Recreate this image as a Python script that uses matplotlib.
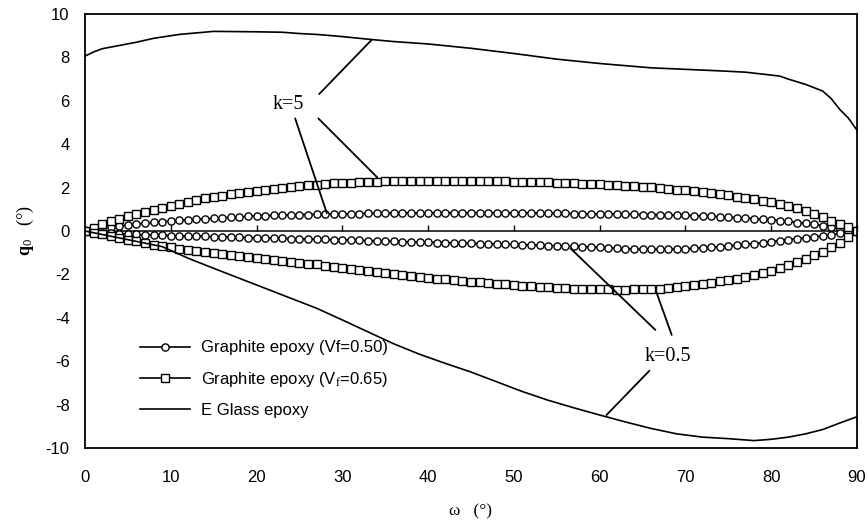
import numpy as np
import matplotlib
matplotlib.use("Agg")
import matplotlib.pyplot as plt

# ── Data ───────────────────────────────────────────────────
omega = list(range(0, 91))

# Graphite epoxy (Vf=0.50)
gr50_k5 = [0.00, 0.06, 0.12, 0.17, 0.23, 0.28, 0.32, 0.36, 0.40, 0.43,
           0.46, 0.49, 0.51, 0.54, 0.56, 0.58, 0.61, 0.63, 0.65, 0.67,
           0.70, 0.71, 0.72, 0.73, 0.74, 0.75, 0.76, 0.77, 0.78, 0.78,
           0.79, 0.80, 0.80, 0.81, 0.81, 0.82, 0.82, 0.83, 0.83, 0.83,
           0.84, 0.84, 0.84, 0.84, 0.84, 0.84, 0.84, 0.84, 0.84, 0.84,
           0.83, 0.83, 0.83, 0.82, 0.82, 0.81, 0.81, 0.80, 0.80, 0.79,
           0.79, 0.78, 0.78, 0.77, 0.77, 0.76, 0.76, 0.75, 0.74, 0.73,
           0.72, 0.71, 0.69, 0.68, 0.66, 0.64, 0.62, 0.60, 0.57, 0.55,
           0.52, 0.48, 0.44, 0.39, 0.35, 0.30, 0.24, 0.17, 0.11, 0.05,
           0.00]
gr50_k05 = [0.00, -0.04, -0.07, -0.10, -0.12, -0.14, -0.16, -0.18, -0.19, -0.20,
            -0.21, -0.22, -0.23, -0.24, -0.25, -0.26, -0.27, -0.28, -0.29, -0.30,
            -0.31, -0.32, -0.33, -0.34, -0.35, -0.36, -0.37, -0.38, -0.39, -0.40,
            -0.41, -0.42, -0.43, -0.44, -0.45, -0.46, -0.47, -0.49, -0.50, -0.51,
            -0.52, -0.53, -0.54, -0.55, -0.56, -0.57, -0.58, -0.59, -0.60, -0.61,
            -0.62, -0.63, -0.65, -0.66, -0.67, -0.68, -0.70, -0.71, -0.72, -0.74,
            -0.76, -0.78, -0.80, -0.82, -0.83, -0.84, -0.84, -0.84, -0.84, -0.83,
            -0.82, -0.80, -0.78, -0.75, -0.72, -0.68, -0.65, -0.62, -0.58, -0.54,
            -0.49, -0.44, -0.40, -0.35, -0.31, -0.27, -0.22, -0.17, -0.11, -0.05,
            0.00]

# Graphite epoxy (Vf=0.65)
gr65_k5 = [0.00, 0.15, 0.30, 0.45, 0.56, 0.67, 0.77, 0.86, 0.96, 1.06,
           1.16, 1.25, 1.34, 1.42, 1.50, 1.57, 1.63, 1.69, 1.75, 1.80,
           1.85, 1.90, 1.94, 1.98, 2.02, 2.06, 2.10, 2.13, 2.16, 2.19,
           2.21, 2.23, 2.25, 2.27, 2.28, 2.29, 2.30, 2.31, 2.31, 2.31,
           2.32, 2.32, 2.32, 2.31, 2.31, 2.31, 2.30, 2.30, 2.29, 2.29,
           2.28, 2.27, 2.26, 2.25, 2.24, 2.23, 2.21, 2.20, 2.18, 2.17,
           2.15, 2.13, 2.11, 2.09, 2.07, 2.04, 2.01, 1.98, 1.95, 1.91,
           1.87, 1.83, 1.79, 1.74, 1.69, 1.64, 1.58, 1.53, 1.46, 1.40,
           1.33, 1.24, 1.14, 1.04, 0.92, 0.78, 0.63, 0.48, 0.33, 0.17,
           0.00]
gr65_k05 = [0.00, -0.08, -0.16, -0.24, -0.32, -0.40, -0.48, -0.56, -0.64, -0.71,
            -0.76, -0.82, -0.87, -0.93, -0.98, -1.03, -1.08, -1.12, -1.17, -1.21,
            -1.26, -1.30, -1.34, -1.38, -1.42, -1.46, -1.50, -1.54, -1.59, -1.64,
            -1.69, -1.74, -1.79, -1.84, -1.89, -1.94, -1.99, -2.03, -2.07, -2.11,
            -2.15, -2.19, -2.23, -2.27, -2.30, -2.34, -2.37, -2.40, -2.43, -2.46,
            -2.49, -2.52, -2.55, -2.57, -2.60, -2.62, -2.64, -2.66, -2.67, -2.68,
            -2.69, -2.69, -2.70, -2.70, -2.69, -2.69, -2.68, -2.66, -2.63, -2.59,
            -2.54, -2.49, -2.44, -2.38, -2.32, -2.26, -2.20, -2.13, -2.04, -1.94,
            -1.83, -1.71, -1.58, -1.44, -1.28, -1.12, -0.95, -0.76, -0.55, -0.28,
            0.00]

# E Glass epoxy
eg_x_k5 = [0, 1, 2, 4, 6, 8, 11, 15, 20, 23, 25, 27, 30, 33, 36, 40, 45, 50,
           55, 60, 63, 66, 70, 74, 77, 79, 81, 82, 84, 86, 87, 88, 89, 90]
eg_k5 = [8.06, 8.25, 8.40, 8.55, 8.70, 8.88, 9.06, 9.20, 9.18, 9.16, 9.10,
         9.06, 8.96, 8.84, 8.73, 8.62, 8.42, 8.18, 7.92, 7.72, 7.62, 7.52,
         7.45, 7.38, 7.32, 7.23, 7.14, 7.00, 6.76, 6.45, 6.10, 5.60, 5.20,
         4.65]
eg_x_k05 = [0, 3, 6, 9, 12, 15, 18, 21, 24, 27, 30, 33, 36, 39, 42, 45, 48,
            51, 54, 57, 60, 63, 66, 69, 72, 75, 78, 80, 82, 84, 86, 88, 90]
eg_k05 = [0.00, -0.24, -0.48, -0.72, -1.25, -1.72, -2.18, -2.64, -3.10,
          -3.56, -4.10, -4.65, -5.20, -5.68, -6.10, -6.50, -6.95, -7.40,
          -7.80, -8.15, -8.48, -8.80, -9.10, -9.35, -9.50, -9.57, -9.66,
          -9.60, -9.50, -9.35, -9.15, -8.85, -8.56]

# annotation: label position, then pointer (start, end) pairs
k5_label = (23.7, 5.85)
k5_lines = [((27.3, 6.31), (33.4, 8.80)),
            ((27.2, 5.19), (34.1, 2.46)),
            ((24.5, 5.19), (28.2, 0.82))]
k05_label = (68.0, -5.79)
k05_lines = [((66.5, -4.56), (56.6, -0.80)),
             ((68.4, -4.79), (66.6, -2.80)),
             ((65.8, -6.44), (60.8, -8.48))]

x_ticks = list(range(0, 91, 10))
y_ticks = list(range(-10, 11, 2))

# ── Style ──────────────────────────────────────────────────
plt.rcParams["font.family"] = ["Liberation Sans", "DejaVu Sans"]
plt.rcParams["axes.unicode_minus"] = False
plt.rcParams["mathtext.fontset"] = "custom"
plt.rcParams["mathtext.rm"] = "Liberation Serif"
plt.rcParams["mathtext.bf"] = "Liberation Serif:bold"
plt.rcParams["mathtext.it"] = "Liberation Serif:italic"

fig = plt.figure(figsize=(8.68, 5.25), dpi=100)
ax = fig.add_axes([0.0979, 0.1467, 0.8894, 0.8266])

lw = 1.2
ax.plot(omega, gr50_k5, color="black", lw=lw, marker="o", ms=5.2,
        mfc="white", mec="black", mew=1.0, label="Graphite epoxy (Vf=0.50)")
ax.plot(omega, gr50_k05, color="black", lw=lw, marker="o", ms=5.2,
        mfc="white", mec="black", mew=1.0)
ax.plot(omega, gr65_k5, color="black", lw=lw, marker="s", ms=6.0,
        mfc="white", mec="black", mew=1.0,
        label="Graphite epoxy (V$_{\\mathrm{f}}$=0.65)")
ax.plot(omega, gr65_k05, color="black", lw=lw, marker="s", ms=6.0,
        mfc="white", mec="black", mew=1.0)
ax.plot(eg_x_k5, eg_k5, color="black", lw=lw, label="E Glass epoxy")
ax.plot(eg_x_k05, eg_k05, color="black", lw=lw)

# annotations
for (x0, y0), (x1, y1) in k5_lines + k05_lines:
    ax.annotate("", xy=(x1, y1), xytext=(x0, y0),
                arrowprops=dict(arrowstyle="-", lw=1.3, color="black",
                                shrinkA=0, shrinkB=0))
ax.text(*k5_label, "k=5", family="Liberation Serif", fontsize=14.5,
        ha="center", va="center")
ax.text(*k05_label, "k=0.5", family="Liberation Serif", fontsize=14.5,
        ha="center", va="center")

# axes
ax.set_xlim(0, 90)
ax.set_ylim(-10, 10)
ax.set_xticks(x_ticks)
ax.set_yticks(y_ticks)
ax.tick_params(axis="both", length=0, labelsize=12)
ax.tick_params(axis="x", pad=16)
ax.tick_params(axis="y", pad=11)
for sp in ax.spines.values():
    sp.set_linewidth(1.3)

# zero line carrying the x ticks
zero_ax = ax.secondary_xaxis(0, transform=ax.transData)
zero_ax.set_xticks(x_ticks)
zero_ax.tick_params(direction="in", length=4, width=1.0, labelbottom=False)
zero_ax.spines["bottom"].set_linewidth(1.1)

ax.set_xlabel("ω   (°)", family="Liberation Serif", fontsize=12.5, labelpad=13)
ax.set_ylabel("$\\mathbf{q}_{\\mathrm{0}}$   (°)", family="Liberation Serif",
              fontsize=13, labelpad=7)

ax.legend(loc="lower left", bbox_to_anchor=(0.052, 0.035), frameon=False,
          fontsize=12, handlelength=3.0, handletextpad=0.66,
          labelspacing=0.85, numpoints=1)

fig.savefig("out.png", dpi=100)
